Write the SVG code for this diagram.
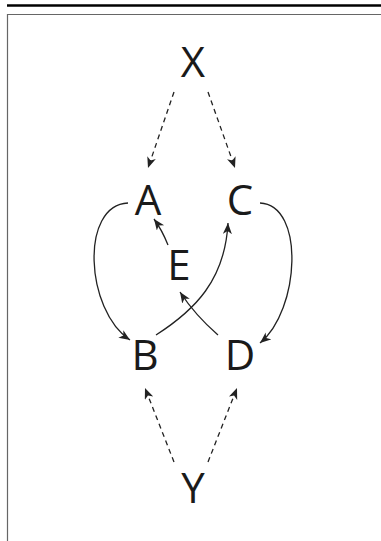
<svg xmlns="http://www.w3.org/2000/svg" width="381" height="541" viewBox="0 0 381 541">
<style>
.lbl{font-family:"Open Sans","Noto Sans",sans-serif;font-size:42px;fill:#1a1a1a;text-anchor:middle}
.e{fill:none;stroke:#222;stroke-width:1.3}
.d{stroke-dasharray:5,4}
</style>
<defs>
<marker id="ah" markerUnits="userSpaceOnUse" markerWidth="12" markerHeight="10" refX="11" refY="4.5" orient="auto" viewBox="0 0 12 10">
<path d="M0,0 L11,4.5 L0,9 L3,4.5 z" fill="#222"/>
</marker>
</defs>
<rect width="381" height="541" fill="#fff"/>
<line x1="7" y1="5.5" x2="381" y2="5.5" stroke="#000" stroke-width="2.5"/>
<polyline points="7.5,541 7.5,14.5 381,14.5" fill="none" stroke="#666" stroke-width="1.2"/>
<g id="connectors">
<path class="e d" d="M174,92 L148,168" marker-end="url(#ah)"/>
<path class="e d" d="M208,92 L235,168" marker-end="url(#ah)"/>
<path class="e" d="M128,203 C80,205 85,310 130,340" marker-end="url(#ah)"/>
<path class="e" d="M260,203 C305,205 300,310 260,343" marker-end="url(#ah)"/>
<path class="e" d="M156,335 C195,310 225,280 228,223" marker-end="url(#ah)"/>
<path class="e" d="M218,335 Q195,315 180,292" marker-end="url(#ah)"/>
<path class="e" d="M168,245 Q162,230 154,219" marker-end="url(#ah)"/>
<path class="e d" d="M174,462 L145,388" marker-end="url(#ah)"/>
<path class="e d" d="M208,462 L237,388" marker-end="url(#ah)"/>
</g>
<g id="X"><text class="lbl" x="193" y="77">X</text></g>
<g id="A"><text class="lbl" x="148" y="215">A</text></g>
<g id="C"><text class="lbl" x="240" y="215">C</text></g>
<g id="E"><text class="lbl" x="179" y="280">E</text></g>
<g id="B"><text class="lbl" x="145" y="370">B</text></g>
<g id="D"><text class="lbl" x="240" y="370">D</text></g>
<g id="Y"><text class="lbl" x="193" y="503">Y</text></g>
</svg>
